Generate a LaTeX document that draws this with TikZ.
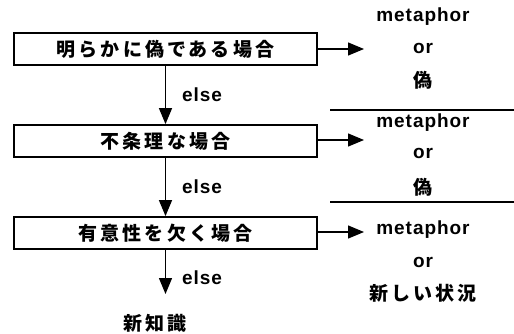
\documentclass[tikz,border=0pt]{standalone}
\usepackage{fontspec}
\setmainfont{Liberation Sans}[LetterSpace=5]
\newfontfamily\jp{Noto Sans CJK JP}[LetterSpace=16]
\usetikzlibrary{arrows.meta}
\begin{document}
\begin{tikzpicture}[x=1pt,y=-1pt,
  cbox/.style={draw,line width=1.8pt,minimum width=303pt,minimum height=32pt,inner sep=0pt,font=\jp\bfseries\fontsize{19}{19}\selectfont},
  flow/.style={line width=1.3pt,-{Triangle[length=16pt,width=13pt]}},
  lab/.style={font=\bfseries\fontsize{19}{19}\selectfont,inner sep=0pt},
  jlab/.style={font=\jp\bfseries\fontsize{19}{19}\selectfont,inner sep=0pt},
  sep/.style={line width=1.8pt}]
\useasboundingbox (0,0) rectangle (514,333);
\node[cbox] (b1) at (165.5,49) {明らかに偽である場合};
\node[cbox] (b2) at (165.5,141) {不条理な場合};
\node[cbox] (b3) at (165.5,233) {有意性を欠く場合};
\coordinate (e3) at (165.5,294);
\draw[flow] (b1.south) -- (b2.north);
\draw[flow] (b2.south) -- (b3.north);
\draw[flow] (b3.south) -- (e3);
\node[lab,anchor=west] (l1) at (182,95) {else};
\node[lab,anchor=west] (l2) at (182,187) {else};
\node[lab,anchor=west] (l3) at (182,278) {else};
\node[jlab] (nk) at (155,323) {新知識};
\coordinate (a1) at (364,49);
\coordinate (a2) at (364,140);
\coordinate (a3) at (364,232);
\draw[flow] (b1.east |- a1) -- (a1);
\draw[flow] (b2.east |- a2) -- (a2);
\draw[flow] (b3.east |- a3) -- (a3);
\node[lab] (m1) at (423,17) {metaphor};
\node[lab] (o1) at (423,48) {or};
\node[jlab] (g1) at (423,80) {偽};
\coordinate (s1a) at (330,110);
\coordinate (s1b) at (514,110);
\draw[sep] (s1a) -- (s1b);
\node[lab] (m2) at (423,123) {metaphor};
\node[lab] (o2) at (423,153) {or};
\node[jlab] (g2) at (423,187) {偽};
\coordinate (s2a) at (330,202);
\coordinate (s2b) at (514,202);
\draw[sep] (s2a) -- (s2b);
\node[lab] (m3) at (423,230) {metaphor};
\node[lab] (o3) at (423,262) {or};
\node[jlab] (g3) at (423,293) {新しい状況};
\end{tikzpicture}
\end{document}
